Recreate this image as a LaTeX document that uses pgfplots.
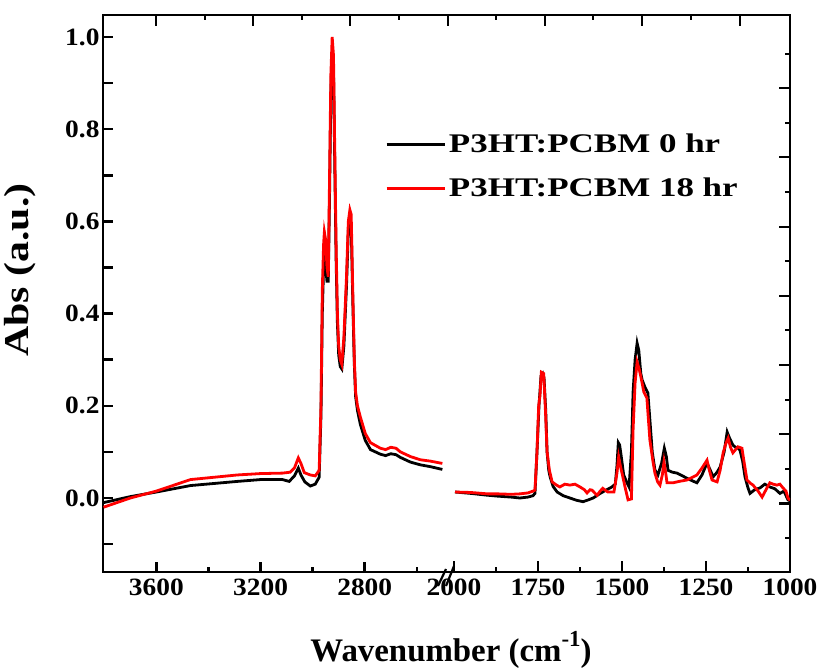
\documentclass[border=0pt]{standalone}
\usepackage{fontspec}
\setmainfont{Liberation Serif}
\newfontfamily\tickfont[FakeStretch=1.1]{Liberation Serif}
\newfontfamily\legfont[FakeStretch=1.3]{Liberation Serif}
\newfontfamily\ylabfont[FakeStretch=1.2]{Liberation Serif}
\usepackage{pgfplots}
\pgfplotsset{compat=1.18}

\pgfplotstableread{
w v
3803 -0.010
3700 0.003
3600 0.013
3469 0.027
3289 0.036
3200 0.040
3116 0.040
3090 0.036
3070 0.048
3055 0.065
3045 0.050
3030 0.035
3009 0.026
2990 0.030
2975 0.045
2968 0.180
2963 0.400
2958 0.500
2955 0.520
2950 0.500
2945 0.470
2940 0.470
2935 0.660
2930 0.880
2925 0.970
2920 0.930
2915 0.720
2910 0.520
2905 0.380
2900 0.310
2894 0.285
2888 0.280
2880 0.330
2870 0.460
2863 0.580
2857 0.600
2852 0.590
2846 0.430
2840 0.290
2835 0.220
2828 0.190
2817 0.160
2798 0.125
2778 0.105
2740 0.095
2720 0.092
2700 0.096
2680 0.094
2663 0.088
2625 0.078
2587 0.072
2548 0.068
2502 0.062
}\blackleft

\pgfplotstableread{
w v
3803 -0.020
3700 0.000
3600 0.015
3469 0.040
3289 0.050
3200 0.053
3116 0.054
3086 0.056
3070 0.065
3055 0.087
3045 0.075
3032 0.055
3009 0.050
2990 0.048
2975 0.060
2968 0.200
2963 0.450
2958 0.550
2955 0.577
2950 0.560
2945 0.500
2940 0.480
2935 0.700
2930 0.920
2925 1.000
2920 0.960
2915 0.750
2910 0.550
2905 0.400
2900 0.330
2894 0.300
2888 0.290
2880 0.350
2870 0.480
2863 0.600
2857 0.625
2852 0.615
2846 0.450
2840 0.300
2835 0.230
2828 0.200
2817 0.176
2798 0.140
2778 0.120
2740 0.108
2720 0.105
2700 0.110
2680 0.108
2663 0.100
2625 0.090
2587 0.083
2548 0.080
2502 0.075
}\redleft

\pgfplotstableread{
w v
1997 0.013
1950 0.010
1900 0.006
1869 0.004
1830 0.002
1804 0.000
1780 0.002
1765 0.005
1759 0.010
1753 0.100
1747 0.200
1741 0.265
1736 0.270
1732 0.260
1727 0.190
1723 0.100
1718 0.060
1714 0.046
1705 0.025
1693 0.013
1675 0.005
1655 0.000
1635 -0.005
1616 -0.008
1600 -0.004
1586 0.000
1575 0.005
1565 0.010
1545 0.018
1530 0.024
1520 0.030
1515 0.070
1511 0.120
1507 0.115
1502 0.089
1495 0.050
1485 0.033
1479 0.024
1472 0.100
1467 0.230
1461 0.300
1455 0.336
1450 0.320
1444 0.270
1440 0.256
1432 0.241
1423 0.228
1417 0.170
1410 0.100
1402 0.061
1393 0.050
1382 0.076
1374 0.108
1368 0.090
1363 0.060
1350 0.056
1336 0.054
1320 0.048
1307 0.043
1290 0.037
1277 0.033
1262 0.050
1247 0.076
1237 0.060
1229 0.046
1218 0.055
1208 0.067
1196 0.100
1187 0.143
1180 0.130
1170 0.115
1164 0.111
1155 0.108
1149 0.104
1141 0.080
1134 0.046
1125 0.022
1119 0.010
1105 0.018
1089 0.022
1075 0.030
1060 0.024
1045 0.020
1030 0.010
1018 0.015
1006 -0.004
1000 -0.006
}\blackright

\pgfplotstableread{
w v
1997 0.013
1950 0.012
1900 0.009
1869 0.009
1830 0.008
1804 0.009
1780 0.011
1765 0.015
1759 0.017
1753 0.100
1748 0.200
1744 0.223
1740 0.273
1733 0.270
1727 0.176
1723 0.100
1716 0.060
1708 0.035
1695 0.028
1685 0.024
1670 0.030
1655 0.028
1640 0.030
1625 0.024
1612 0.018
1604 0.011
1595 0.018
1589 0.017
1580 0.010
1574 0.006
1565 0.015
1557 0.021
1548 0.016
1542 0.013
1524 0.013
1515 0.054
1510 0.089
1505 0.070
1500 0.054
1491 0.024
1482 -0.004
1472 -0.002
1467 0.148
1461 0.250
1455 0.295
1449 0.280
1443 0.260
1435 0.230
1426 0.217
1417 0.126
1408 0.080
1402 0.054
1394 0.035
1387 0.028
1380 0.050
1375 0.078
1370 0.055
1366 0.033
1348 0.033
1330 0.036
1307 0.039
1290 0.045
1277 0.050
1262 0.065
1247 0.082
1240 0.060
1232 0.039
1217 0.035
1208 0.060
1199 0.098
1190 0.120
1184 0.130
1177 0.110
1170 0.098
1162 0.105
1155 0.111
1143 0.108
1136 0.075
1128 0.039
1118 0.032
1110 0.028
1095 0.015
1083 0.002
1070 0.020
1060 0.033
1050 0.030
1039 0.028
1030 0.030
1021 0.022
1012 0.015
1006 0.000
1000 -0.005
}\redright

\pgfplotsset{
  mystyle/.style={
    scale only axis, height=557bp, anchor=south west,
    ymin=-0.1605, ymax=1.0477, x dir=reverse,
    axis line style={draw=none},
    tick align=inside,
    major tick length=11bp, minor tick length=5.5bp,
    every tick/.style={line width=2.6bp, black},
    ticklabel style={font=\tickfont\bfseries\fontsize{25}{28}\selectfont},
    xticklabel style={yshift=-3bp},
    xtick pos=lower,
  },
}

\begin{document}
\begin{tikzpicture}[x=1bp,y=1bp]
% frame with top and right ticks
\begin{axis}[scale only axis, anchor=south west, at={(0,0)},
  width=687bp, height=557bp, xmin=0, xmax=687, ymin=0, ymax=557,
  axis line style={line width=2.6bp, line cap=rect},
  tick align=inside,
  major tick length=11bp, minor tick length=5.5bp,
  every tick/.style={line width=2.6bp, black},
  xtick pos=upper, ytick pos=upper,
  xtick={53,150,247,345,442,539,637},
  minor xtick={102,199,296,393,490,588},
  ytick={68.5,138,207,276,345,415,484},
  minor ytick={34,103,172,242,311,380,449,518},
  xticklabels={}, yticklabels={},
  clip=false]
  \draw[line width=2.2bp] (axis cs:335,-14) -- (axis cs:343,3);
  \draw[line width=2.2bp] (axis cs:343,-14) -- (axis cs:351,6);
  \node[font=\bfseries\fontsize{33}{36}\selectfont, anchor=base] at (axis cs:348,-89)
    {Wavenumber (cm\raisebox{0.45em}{\fontsize{23}{23}\selectfont -1})};
  \node[font=\ylabfont\bfseries\fontsize{35}{38}\selectfont, rotate=90, anchor=center] at (axis cs:-83,302)
    {Abs (a.u.)};
\end{axis}

% left segment
\begin{axis}[mystyle, at={(0,0)}, width=343bp,
  xmin=2488, xmax=3805,
  xtick={2800,3200,3600}, xticklabels={2800,3200,3600},
  minor xtick={2600,3000,3400},
  ytick pos=left,
  ytick={-0.1,0,0.1,0.2,0.3,0.4,0.5,0.6,0.7,0.8,0.9,1.0},
  yticklabels={,0.0,,0.2,,0.4,,0.6,,0.8,,1.0},
  major tick length=10bp,
  legend style={draw=none, fill=none, at={(0.822,0.79)}, anchor=north west,
    font=\legfont\bfseries\fontsize{27}{30}\selectfont,
    row sep=20bp, inner sep=0pt,
    nodes={inner xsep=3bp, inner ysep=2bp}},
  legend cell align=left,
  legend image code/.code={\draw[#1] (0bp,0bp) -- (58bp,0bp);},
]
  \addplot[black, line width=2.8bp] table[x=w, y=v] {\blackleft};
  \addlegendentry{P3HT:PCBM 0 hr}
  \addplot[red, line width=2.8bp] table[x=w, y=v] {\redleft};
  \addlegendentry{P3HT:PCBM 18 hr}
\end{axis}

% right segment
\begin{axis}[mystyle, at={(351bp,0)}, width=336bp,
  xmin=1000, xmax=2000,
  xtick={1000,1250,1500,1750,2000}, xticklabels={1000,1250,1500,1750,2000},
  minor xtick={1125,1375,1625,1875},
  ytick=\empty,
]
  \addplot[black, line width=2.8bp] table[x=w, y=v] {\blackright};
  \addplot[red, line width=2.8bp] table[x=w, y=v] {\redright};
\end{axis}

\pgfresetboundingbox
\path (-103bp,-96bp) rectangle (719bp,572bp);
\end{tikzpicture}
\end{document}
